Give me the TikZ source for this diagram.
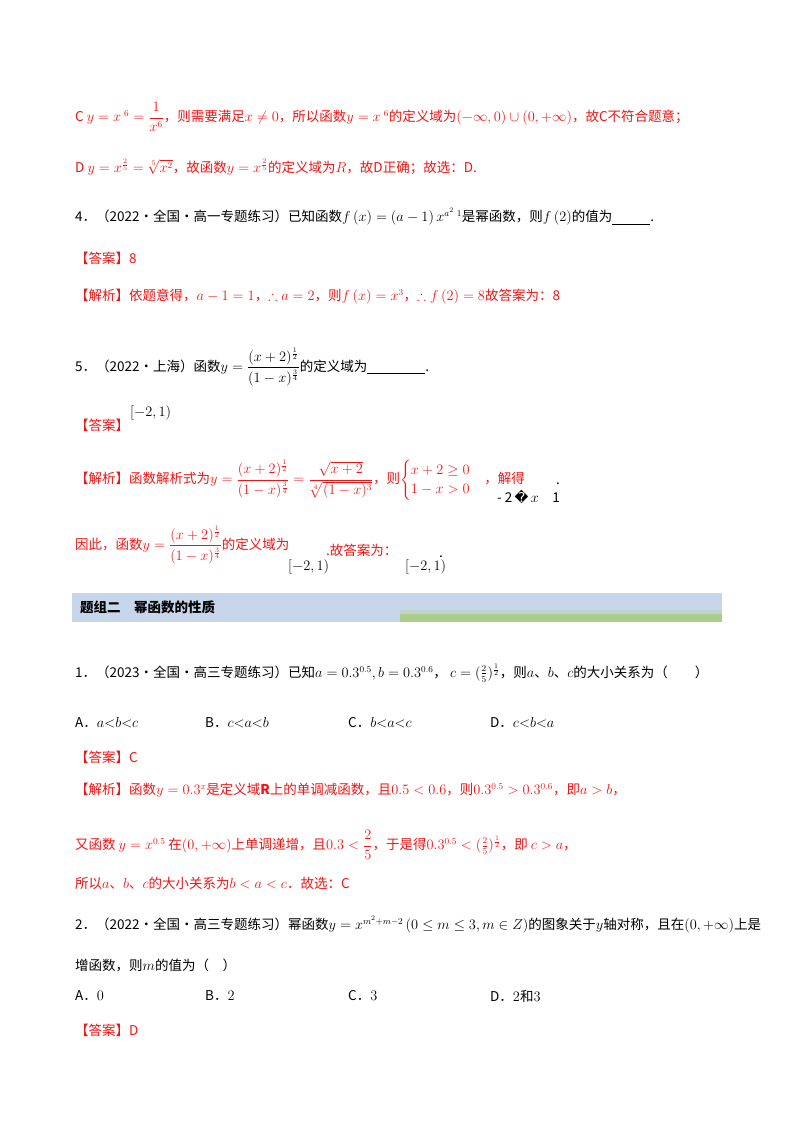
\documentclass[tikz,border=0pt]{standalone}
\usepackage{amsmath,amssymb}
\usepackage{fontspec}
\setmainfont{Noto Sans CJK SC}
\newfontfamily\dejavu{DejaVu Sans}
\definecolor{ansred}{RGB}{240,20,20}
\definecolor{barblue}{RGB}{200,214,236}
\definecolor{bargreen}{RGB}{170,205,140}
\begin{document}
\begin{tikzpicture}[x=1pt,y=-1pt,
  txt/.style={anchor=west,inner sep=0pt,font=\fontsize{13.5}{16}\selectfont},
  red/.style={txt,text=ansred}]
\useasboundingbox (0,0) rectangle (800,1132);
\node[red] (l1) at (75,117) {C $y=x^{\ 6}=\dfrac{1}{x^6}$，则需要满足$x\neq0$，所以函数$y=x^{\ 6}$的定义域为$\left(-\infty,0\right)\cup\left(0,+\infty\right)$，故C不符合题意；};
\node[red] (l2) at (75,167) {D $y=x^{\frac25}=\sqrt[5]{x^2}$，故函数$y=x^{\frac25}$的定义域为$R$，故D正确；故选：D.};
\node[txt] (l3) at (75,217) {4．（2022·全国·高一专题练习）已知函数$f\left(x\right)=\left(a-1\right)x^{a^2\ 1}$是幂函数，则$f\left(2\right)$的值为\underline{\hspace{38pt}}.};
\node[red] (l4) at (75,258) {【答案】8};
\node[red] (l5) at (75,297) {【解析】依题意得，$a-1=1$，$\therefore a=2$，则$f\left(x\right)=x^3$，$\therefore f\left(2\right)=8$故答案为：8};
\node[txt] (l6) at (75,367) {5．（2022·上海）函数$y=\dfrac{(x+2)^{\frac12}}{(1-x)^{\frac34}}$的定义域为\underline{\hspace{58pt}}.};
\node[red] (l7) at (75,425) {【答案】};
\node[txt,text=black] (l7b) at (130,413) {$[-2,1)$};
\node[red] (l8) at (75,480) {【解析】函数解析式为$y=\dfrac{(x+2)^{\frac12}}{(1-x)^{\frac34}}=\dfrac{\sqrt{x+2}}{\sqrt[4]{(1-x)^3}}$，则$\begin{cases}x+2\ge0\\1-x>0\end{cases}$，解得};
\node[txt,text=black] (l8b) at (497,497) {- 2\,{\dejavu\char"FFFD}\,$x$\quad 1};
\node[txt,text=black] (l8c) at (556,484) {.};
\node[red] (l9) at (75,545) {因此，函数$y=\dfrac{(x+2)^{\frac12}}{(1-x)^{\frac34}}$的定义域为};
\node[txt,text=black] (l9b) at (288,567) {$[-2,1)$};
\node[red] (l9c) at (326,550) {.故答案为：};
\node[txt,text=black] (l9d) at (405,567) {$[-2,1)$};
\node[txt,text=black] (l9e) at (439,557) {.};
\fill[barblue] (72,593) rectangle (722,622);
\fill[bargreen] (400,614) rectangle (722,622);
\fill[barblue!70!bargreen] (400,610) rectangle (722,614);
\node[txt,font=\fontsize{13.5}{16}\selectfont\bfseries] (hd) at (80,607) {题组二\quad 幂函数的性质};
\node[txt] (m1) at (75,673) {1．（2023·全国·高三专题练习）已知$a=0.3^{0.5},b=0.3^{0.6}$，\ $c=(\frac25)^{\frac12}$，则$a$、$b$、$c$的大小关系为（\qquad）};
\node[txt] (o1) at (75,723) {A．$a{<}b{<}c$};
\node[txt] (o2) at (205,723) {B．$c{<}a{<}b$};
\node[txt] (o3) at (348,723) {C．$b{<}a{<}c$};
\node[txt] (o4) at (490,723) {D．$c{<}b{<}a$};
\node[red] (a1) at (75,757) {【答案】C};
\node[red] (s1) at (75,790) {【解析】函数$y=0.3^x$是定义域\textbf{R}上的单调减函数，且$0.5<0.6$，则$0.3^{0.5}>0.3^{0.6}$，即$a>b$，};
\node[red] (s2) at (75,845) {又函数\ $y=x^{0.5}$\ 在$(0,+\infty)$上单调递增，且$0.3<\dfrac25$，于是得$0.3^{0.5}<(\frac25)^{\frac12}$，即\ $c>a$，};
\node[red] (s3) at (75,883) {所以$a$、$b$、$c$的大小关系为$b<a<c$．故选：C};
\node[txt] (m2) at (75,925) {2．（2022·全国·高三专题练习）幂函数$y=x^{m^2+m-2}\left(0\le m\le3,m\in Z\right)$的图象关于$y$轴对称，且在$(0,+\infty)$上是};
\node[txt] (m2b) at (75,965) {增函数，则$m$的值为（\quad）};
\node[txt] (p1) at (75,996) {A．$0$};
\node[txt] (p2) at (205,996) {B．$2$};
\node[txt] (p3) at (348,996) {C．$3$};
\node[txt] (p4) at (490,996) {D．$2$和$3$};
\node[red] (a2) at (75,1030) {【答案】D};
\end{tikzpicture}
\end{document}
